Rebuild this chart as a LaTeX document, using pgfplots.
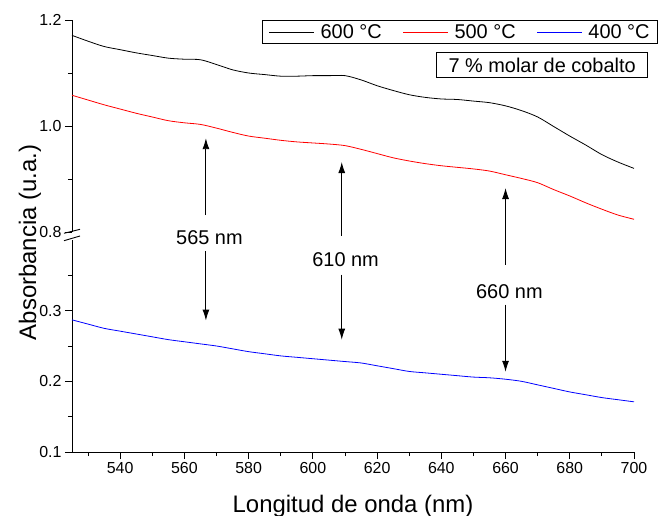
\documentclass[border=0pt]{standalone}
\usepackage{fontspec}
\setmainfont{Liberation Sans}
\usepackage{pgfplots}
\pgfplotsset{compat=1.18}
\usetikzlibrary{arrows.meta}

% absorbance spectra
\pgfplotstableread{
wl   a600  a500  a400
525 1.171 1.058 0.287
530 1.160 1.049 0.281
535 1.150 1.040 0.275
540 1.144 1.032 0.271
545 1.138 1.024 0.267
550 1.133 1.017 0.263
555 1.128 1.010 0.259
560 1.126 1.006 0.256
565 1.125 1.003 0.253
570 1.116 0.996 0.250
575 1.106 0.988 0.246
580 1.100 0.981 0.242
585 1.097 0.977 0.239
590 1.094 0.973 0.236
595 1.094 0.970 0.234
600 1.095 0.968 0.232
605 1.095 0.966 0.230
610 1.095 0.963 0.228
615 1.087 0.956 0.226
620 1.076 0.948 0.222
625 1.067 0.940 0.218
630 1.059 0.934 0.214
635 1.054 0.929 0.212
640 1.051 0.925 0.210
645 1.050 0.922 0.208
650 1.047 0.919 0.206
655 1.044 0.915 0.205
660 1.038 0.908 0.203
665 1.029 0.901 0.200
670 1.017 0.893 0.195
675 0.999 0.880 0.190
680 0.981 0.868 0.185
685 0.964 0.855 0.181
690 0.946 0.843 0.177
695 0.932 0.832 0.174
700 0.920 0.824 0.171
}\spectra

\pgfplotsset{
  brk/.style={
    scale only axis, width=562bp, height=212bp,
    xmin=525, xmax=700,
    axis y line*=left,
    tick align=outside,
    major tick length=7bp, minor tick length=4bp,
    tick style={black, line width=0.8bp},
    axis line style={line width=0.9bp},
    ticklabel style={font=\fontsize{16}{18}\selectfont},
    /pgf/number format/assume math mode=true,
    yticklabel style={/pgf/number format/.cd, fixed, fixed zerofill, precision=1},
    clip=false,
  },
  curve/.style={line width=0.8bp, smooth, tension=0.5},
}
\tikzset{ann/.style={line width=0.9bp, -{Latex[length=11bp,width=7bp]}}}
\newcommand\lbl{\fontsize{20}{22}\selectfont}

\begin{document}
\begin{tikzpicture}
\useasboundingbox (0,0) rectangle (660bp,516bp);

% upper segment
\begin{axis}[brk,
  at={(72bp,284bp)}, anchor=south west,
  ymin=0.8, ymax=1.2,
  ytick={0.8,1.0,1.2}, minor ytick={0.9,1.1},
  axis x line=none,
  legend columns=3,
  legend style={at={(1.0427,1)}, anchor=north east, draw=black, line width=0.8bp,
    font=\lbl, inner xsep=6bp, inner ysep=2bp,
    /tikz/every odd column/.append style={column sep=4bp},
    /tikz/every even column/.append style={column sep=19bp}},
  legend image code/.code={\draw[#1, line width=0.8bp] (0bp,0bp) -- (45bp,0bp);},
]
  \addplot[curve, black] table[x=wl, y=a600] {\spectra};
  \addlegendentry{600 °C}
  \addplot[curve, red] table[x=wl, y=a500] {\spectra};
  \addlegendentry{500 °C}
  \addlegendimage{blue}
  \addlegendentry{400 °C}

  \node[draw=black, line width=0.8bp, anchor=north east, minimum width=211bp,
        minimum height=25bp, inner sep=0pt, font=\lbl]
        at (axis description cs:1.0249,0.849) {7 \% molar de cobalto};

  \draw[ann] (axis cs:566.7,0.832) -- (axis cs:566.7,0.977);
  \node[font=\lbl] at (axis cs:567.8,0.790) {565 nm};
  \draw[ann] (axis cs:609.0,0.7925) -- (axis cs:609.0,0.932);
  \node[font=\lbl] at (axis cs:610.2,0.747) {610 nm};
  \draw[ann] (axis cs:660.0,0.738) -- (axis cs:660.0,0.883);
  \node[font=\lbl] at (axis cs:661.2,0.687) {660 nm};
\end{axis}

% lower segment
\begin{axis}[brk,
  at={(72bp,64bp)}, anchor=south west,
  ymin=0.1, ymax=0.4,
  ytick={0.1,0.2,0.3}, minor ytick={0.15,0.25,0.35},
  axis x line*=bottom,
  xtick={540,560,...,700}, minor xtick={530,550,...,690},
]
  \addplot[curve, blue] table[x=wl, y=a400] {\spectra};

  \draw[ann] (axis cs:566.7,0.384) -- (axis cs:566.7,0.286);
  \draw[ann] (axis cs:609.0,0.351) -- (axis cs:609.0,0.259);
  \draw[ann] (axis cs:660.0,0.3085) -- (axis cs:660.0,0.2135);
\end{axis}

% axis break marks
\draw[line width=0.9bp] (64bp,282.7bp) -- (80bp,286.7bp);
\draw[line width=0.9bp] (64bp,275.3bp) -- (80bp,280bp);

\node[anchor=base, font=\fontsize{24}{26}\selectfont] at (353bp,4bp) {Longitud de onda (nm)};
\node[anchor=base, rotate=90, font=\fontsize{24}{26}\selectfont] at (36bp,273.5bp) {Absorbancia (u.a.)};
\end{tikzpicture}
\end{document}
